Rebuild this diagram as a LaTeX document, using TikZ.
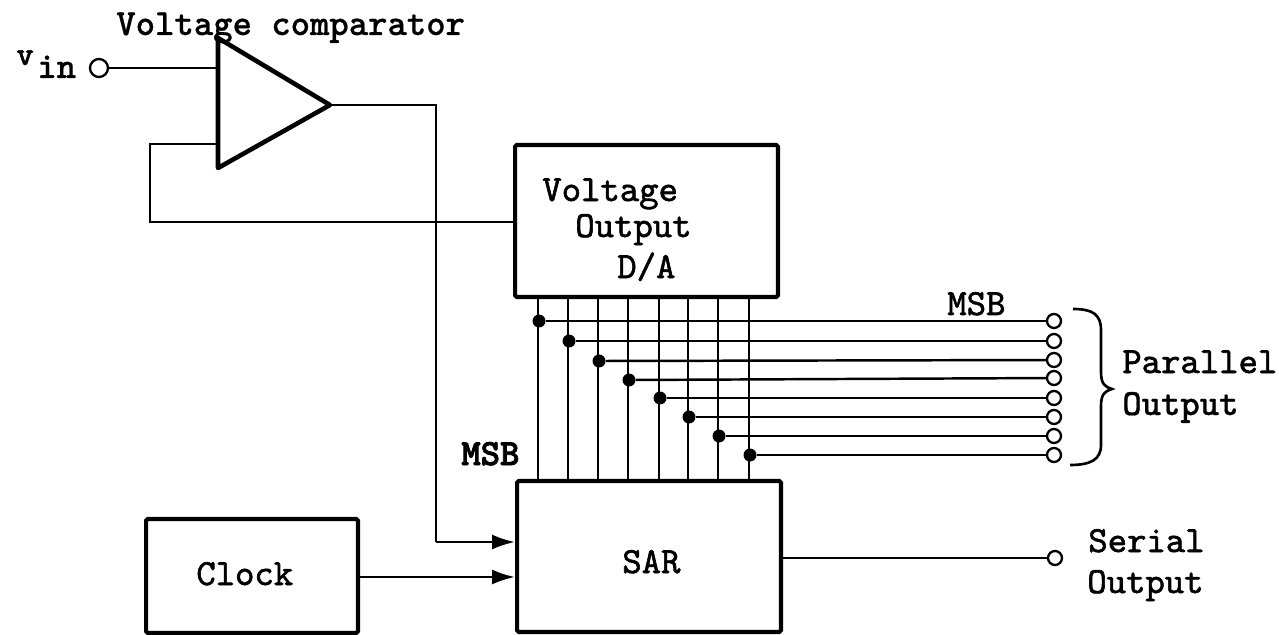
\documentclass[tikz,border=0pt]{standalone}
\usetikzlibrary{arrows.meta,calc}
\font\medtt="[lmmono10-regular]:embolden=1.6" at 21pt
\font\hvtt="[lmmonolt10-bold]:embolden=0.6" at 21pt
\font\hvvtt="[lmmonolt10-bold]:embolden=2.2" at 21pt
\font\smalltt="[lmmonolt10-bold]:embolden=1.4" at 19pt
\begin{document}
\begin{tikzpicture}[x=0.02cm,y=-0.02cm,
 wire/.style={line width=1.4pt,black},
 box/.style={draw=black,line width=2.3pt,inner sep=0pt,rounded corners=1pt},
 term/.style={circle,draw=black,line width=1.3pt,fill=white,minimum size=0.28cm,inner sep=0pt},
 dot/.style={circle,fill=black,minimum size=0.26cm,inner sep=0pt},
 lbl/.style={font=\medtt,inner sep=0pt,text=black,anchor=base west},
 blbl/.style={lbl,font=\hvtt},
 tip/.style={-{Latex[length=0.46cm,width=0.3cm]}}]
\useasboundingbox (0,0) rectangle (1279,635);
% boxes
\node[box,minimum width=5.26cm,minimum height=3.04cm] (da) at (646.5,221) {};
\node[box,minimum width=5.28cm,minimum height=3.02cm] (sar) at (649,556.5) {};
\node[box,minimum width=4.24cm,minimum height=2.28cm] (clk) at (252,576) {};
\node[lbl] (t1) at (542,201) {Voltage};
\node[lbl] (t2) at (575,237) {Output};
\node[lbl] (t3) at (617,278) {D/A};
\node[lbl] (sart) at (622,573) {SAR};
\node[lbl] (clkt) at (196,585) {Clock};
% comparator
\coordinate (ca) at (218,38);
\coordinate (cb) at (218,168);
\coordinate (cc) at (330,105);
\draw[line width=2.6pt,line join=round] (ca) -- (cb) -- (cc) -- cycle;
\coordinate (inp) at (218,68);
\coordinate (inn) at (218,144);
% vin
\node[term,minimum size=0.36cm] (vt) at (99,68) {};
\draw[wire] (vt) -- (inp);
\node[blbl,font=\smalltt] (vin) at (16,65) {v};
\node[blbl] (vin2) at (37,78) {in};
\node[blbl] (vc) at (116,35) {Voltage comparator};
% feedback
\coordinate (f1) at (150,144);
\coordinate (f2) at (150,222);
\draw[wire] (inn) -- (f1) -- (f2) -- (da.west |- f2);
% comparator out
\coordinate (o1) at (436,105);
\coordinate (o2) at (436,542);
\draw[wire] (cc) -- (o1) -- (o2);
\draw[wire,tip] (o2) -- (sar.west |- o2);
\coordinate (c2) at (0,577);
\draw[wire,tip] (clk.east |- c2) -- (sar.west |- c2);
% serial
\node[term] (st) at (1055,558) {};
\draw[wire] (sar.east |- st) -- (st);
\node[lbl] (s1) at (1088,552) {Serial};
\node[lbl] (s2) at (1087,593) {Output};
% bus
\foreach \i/\x/\y/\py in {1/538/321/321,2/568/341/341,3/598/361/360,4/628/380/378,5/659/398/398,6/688/417/417,7/718/436/436,8/749/455/455}{
  \coordinate (u\i) at (\x,297);
  \coordinate (d\i) at (\x,481);
  \draw[wire] (u\i) -- (d\i);
  \node[dot] (j\i) at (\x+1,\y) {};
  \node[term] (p\i) at (1054,\py) {};
  \draw[wire] (j\i) -- (p\i);
}
\node[blbl,font=\hvvtt] (m1) at (461,465) {MSB};
\node[lbl] (m2) at (947,315) {MSB};
\draw[line width=1.5pt] (1073,309) .. controls (1092,309) and (1101,314) .. (1101,330) -- (1101,372) .. controls (1101,384) and (1105,387) .. (1112,389) .. controls (1105,391) and (1101,394) .. (1101,406) -- (1101,445) .. controls (1101,460) and (1090,465) .. (1070,465);
\node[lbl] (q1) at (1122,373) {Parallel};
\node[blbl] (q2) at (1122,415) {Output};
\end{tikzpicture}
\end{document}
